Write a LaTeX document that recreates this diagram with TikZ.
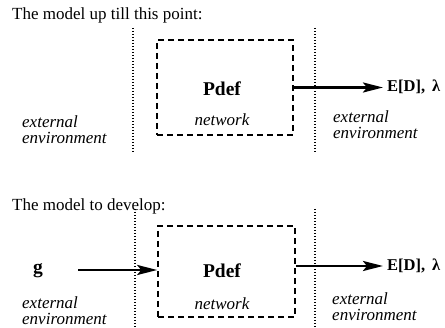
\documentclass[tikz,border=0pt]{standalone}
\usepackage{fontspec}
\setmainfont{Liberation Serif}
\usetikzlibrary{arrows.meta}

\begin{document}
\begin{tikzpicture}[
  x=1pt, y=-1pt,
  >={Stealth[length=20pt, width=10pt, inset=4pt]},
  every node/.style={inner sep=0pt, font=\fontsize{17}{15.5}\selectfont},
  heading/.style={anchor=west},
  envlabel/.style={anchor=west, align=left, font=\fontsize{17}{15.5}\selectfont\itshape},
  boldname/.style={font=\fontsize{19.5}{22}\selectfont\bfseries},
  result/.style={anchor=west, font=\fontsize{16.5}{20}\selectfont\bfseries},
  netbox/.style={draw, line width=1.6pt, dash pattern=on 6pt off 4pt},
  divider/.style={line width=1.5pt, dash pattern=on 1pt off 2pt},
  flow/.style={->, line width=2.6pt}
]
\useasboundingbox (0,0) rectangle (445,328);

\node (head1) [heading] at (12,15) {The model up till this point:};
\node (box1) [netbox, minimum width=136pt, minimum height=95pt] at (225,87.5) {};
\node (pdef1) [boldname] at (222,89) {Pdef};
\node (net1) at (222,120) {\itshape network};
\node (envl1) [envlabel] at (22,129.5) {external\\environment};
\node (envr1) [envlabel] at (333,124.5) {external\\environment};
\node (out1) [result] at (387,87) {E[D],~\,λ};

\coordinate (dl1a) at (133,28);  \coordinate (dl1b) at (133,153);
\coordinate (dr1a) at (315,28);  \coordinate (dr1b) at (315,153);
\draw[divider] (dl1a) -- (dl1b);
\draw[divider] (dr1a) -- (dr1b);
\draw[flow, shorten >=4pt] (box1.east) -- (box1.east -| out1.west);

\node (head2) [heading] at (12,206) {The model to develop:};
\node (box2) [netbox, minimum width=137pt, minimum height=91pt] at (226.5,271.5) {};
\node (pdef2) [boldname] at (222,271) {Pdef};
\node (net2) at (222,304) {\itshape network};
\node (g2) [boldname] at (38,271) {g};
\node (envl2) [envlabel] at (22,310.5) {external\\environment};
\node (envr2) [envlabel] at (332,306.5) {external\\environment};
\node (out2) [result] at (387,266) {E[D],~\,λ};

\coordinate (dl2a) at (135,209);  \coordinate (dl2b) at (135,328);
\coordinate (dr2a) at (315,209);  \coordinate (dr2b) at (315,328);
\coordinate (src2) at (78,270);
\draw[divider] (dl2a) -- (dl2b);
\draw[divider] (dr2a) -- (dr2b);
\draw[flow] (src2) -- (src2 -| box2.west);
\draw[flow, shorten >=4pt] (box2.east |- out2) -- (out2.west);
\end{tikzpicture}
\end{document}
